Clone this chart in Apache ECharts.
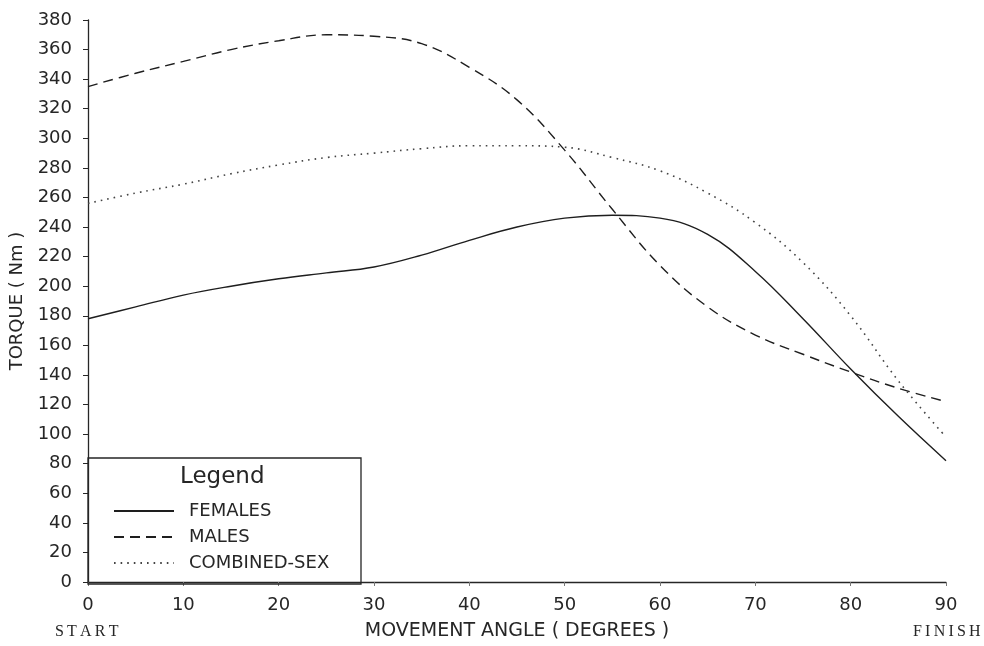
<!DOCTYPE html>
<html>
<head>
<meta charset="utf-8">
<script src="https://cdn.jsdelivr.net/npm/echarts@6/dist/echarts.min.js"></script>
<style>html,body{margin:0;padding:0;background:#fff;}#c{width:984px;height:646px;}</style>
</head>
<body>
<div id="c"></div>
<script>
const angles = [0, 5, 10, 15, 20, 25, 30, 35, 40, 45, 50, 55, 60, 65, 70, 75, 80, 85, 90];
const females = [178, 186, 194, 200, 205, 209, 213, 221, 231, 240, 246, 248, 246, 235, 210, 178, 144, 112, 82];
const males = [335, 344, 352, 360, 366, 370, 369, 364, 348, 326, 292, 252, 214, 186, 167, 154, 142, 131, 122];
const combined = [256, 263, 269, 276, 282, 287, 290, 293, 295, 295, 294, 287, 278, 263, 243, 216, 180, 136, 98];
const seriesNames = ['FEMALES', 'MALES', 'COMBINED-SEX'];
const xTitle = 'MOVEMENT ANGLE ( DEGREES )';
const yTitle = 'TORQUE ( Nm )';

const FONT = 'DejaVu Sans';
const INK = '#262626';
const pair = arr => angles.map((a, i) => [a, arr[i]]);

const chart = echarts.init(document.getElementById('c'), null, {renderer: 'canvas'});
chart.setOption({
  animation: false,
  backgroundColor: '#ffffff',
  grid: {left: 88, right: 38, top: 20, bottom: 62},
  xAxis: {
    type: 'value', min: 0, max: 90, interval: 10,
    name: xTitle, nameLocation: 'middle', nameGap: 40,
    nameTextStyle: {fontFamily: FONT, fontSize: 19, color: INK},
    axisLine: {show: true, lineStyle: {color: INK, width: 1.3}},
    axisTick: {show: true, length: 4, lineStyle: {color: '#777'}},
    axisLabel: {fontFamily: FONT, fontSize: 18, color: INK, margin: 14},
    splitLine: {show: false}
  },
  yAxis: {
    type: 'value', min: 0, max: 380, interval: 20,
    name: yTitle, nameLocation: 'middle', nameGap: 62,
    nameTextStyle: {fontFamily: FONT, fontSize: 18, color: INK},
    axisLine: {show: true, lineStyle: {color: INK, width: 1.3}},
    axisTick: {show: true, length: 5, lineStyle: {color: INK}},
    axisLabel: {fontFamily: FONT, fontSize: 18, color: INK, margin: 16},
    splitLine: {show: false}
  },
  legend: {
    orient: 'vertical', left: 108, top: 497, itemWidth: 60, itemHeight: 12, itemGap: 8,
    selectedMode: false,
    data: seriesNames,
    itemStyle: {opacity: 0},
    textStyle: {fontFamily: FONT, fontSize: 18, color: INK, padding: [0, 0, 0, 10]}
  },
  graphic: [
    {type: 'rect', shape: {x: 88, y: 458, width: 273, height: 126}, style: {fill: 'none', stroke: INK, lineWidth: 1.3}, z: 5},
    {type: 'text', x: 180, y: 466, style: {text: 'Legend', font: '23px "DejaVu Sans"', fill: INK}, z: 5},
    {type: 'text', x: 55, y: 624, style: {text: 'S\u2009T\u2009A\u2009R\u2009T', font: '16px "Liberation Serif"', fill: INK}},
    {type: 'text', x: 913, y: 624, style: {text: 'F\u2009I\u2009N\u2009I\u2009S\u2009H', font: '16px "Liberation Serif"', fill: INK}}
  ],
  series: [
    {name: seriesNames[0], type: 'line', smooth: 0.4, symbol: 'none', data: pair(females),
     lineStyle: {color: '#1e1e1e', width: 1.4, type: 'solid'}, itemStyle: {color: '#1e1e1e'}},
    {name: seriesNames[1], type: 'line', smooth: 0.4, symbol: 'none', data: pair(males),
     lineStyle: {color: '#1e1e1e', width: 1.4, type: [10, 6]}, itemStyle: {color: '#1e1e1e'}},
    {name: seriesNames[2], type: 'line', smooth: 0.4, symbol: 'none', data: pair(combined),
     lineStyle: {color: '#444', width: 1.6, type: [1.6, 5]}, itemStyle: {color: '#444'}}
  ]
});
</script>
</body>
</html>
